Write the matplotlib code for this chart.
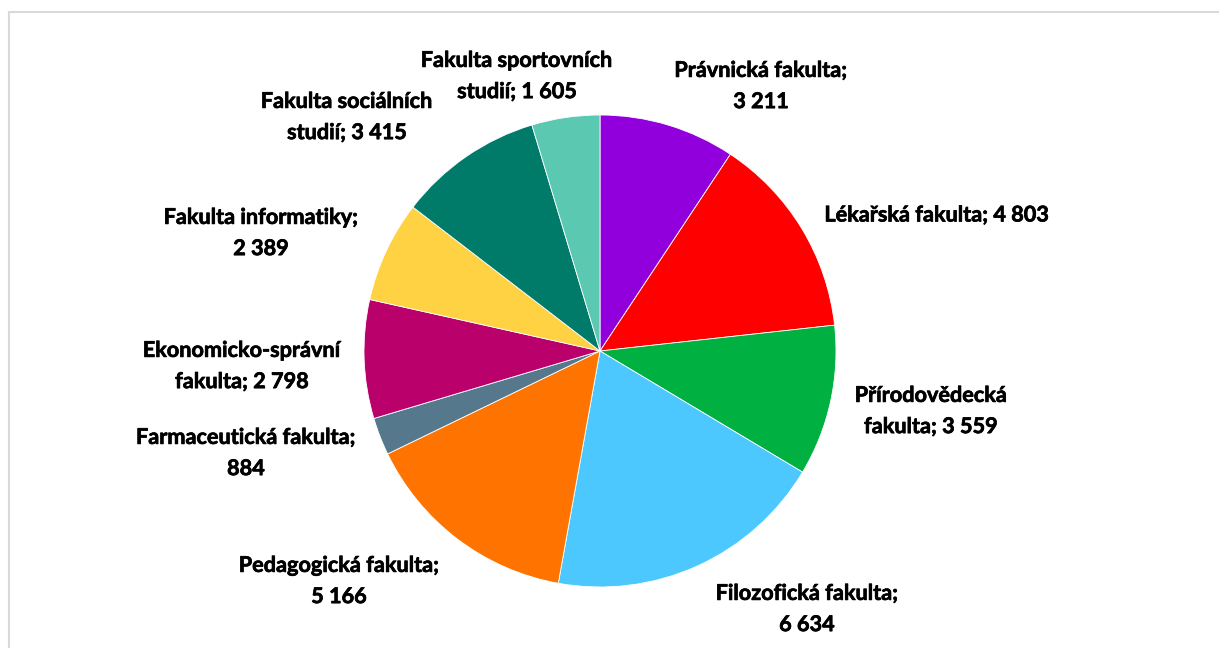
import matplotlib
matplotlib.use("Agg")
import matplotlib.pyplot as plt
import matplotlib.patheffects as pe
from matplotlib.lines import Line2D

labels = ["Právnická fakulta;\n3 211",
          "Lékařská fakulta; 4 803",
          "Přírodovědecká\nfakulta; 3 559",
          "Filozofická fakulta;\n6 634",
          "Pedagogická fakulta;\n5 166",
          "Farmaceutická fakulta;\n884",
          "Ekonomicko-správní\nfakulta; 2 798",
          "Fakulta informatiky;\n2 389",
          "Fakulta sociálních\nstudií; 3 415",
          "Fakulta sportovních\nstudií; 1 605"]
values = [3211, 4803, 3559, 6634, 5166, 884, 2798, 2389, 3415, 1605]
colors = ["#9100DC", "#FF0000", "#00B040", "#4DC8FF", "#FF7400",
          "#55788C", "#BA006A", "#FFD243", "#007B6A", "#5BC8B1"]
# label centers in pixel coordinates (layout)
label_pos = [(761, 86), (937, 215), (931, 411), (807, 609), (339, 581),
             (246, 453), (242, 366), (261, 233), (347, 117), (517, 76)]

W, H = 1219, 648
fig = plt.figure(figsize=(W / 100, H / 100), dpi=100)
fig.patch.set_facecolor("white")

cx, cy, r = 600, 351, 236
ax = fig.add_axes([(cx - r) / W, (H - cy - r) / H, 2 * r / W, 2 * r / H])
ax.pie(values, colors=colors, startangle=90, counterclock=False,
       wedgeprops=dict(edgecolor="white", linewidth=0.6), radius=1)
ax.set_xlim(-1, 1)
ax.set_ylim(-1, 1)
ax.set_aspect("equal")
ax.axis("off")

for lab, (px, py) in zip(labels, label_pos):
    fig.text(px / W, 1 - py / H, lab, ha="center", va="center",
             fontsize=15.6, fontweight="bold", family=["Lato", "DejaVu Sans"],
             color="#000000", linespacing=1.6,
             path_effects=[pe.withStroke(linewidth=0.5, foreground="#000000")])

# chart border
fig.add_artist(Line2D([8.5 / W, 1], [1 - 11.5 / H, 1 - 11.5 / H],
                      transform=fig.transFigure, color="#D9D9D9", lw=1.5))
fig.add_artist(Line2D([8.5 / W, 8.5 / W], [0, 1 - 11.5 / H],
                      transform=fig.transFigure, color="#D9D9D9", lw=1.5))

fig.savefig("out.png", dpi=100)
